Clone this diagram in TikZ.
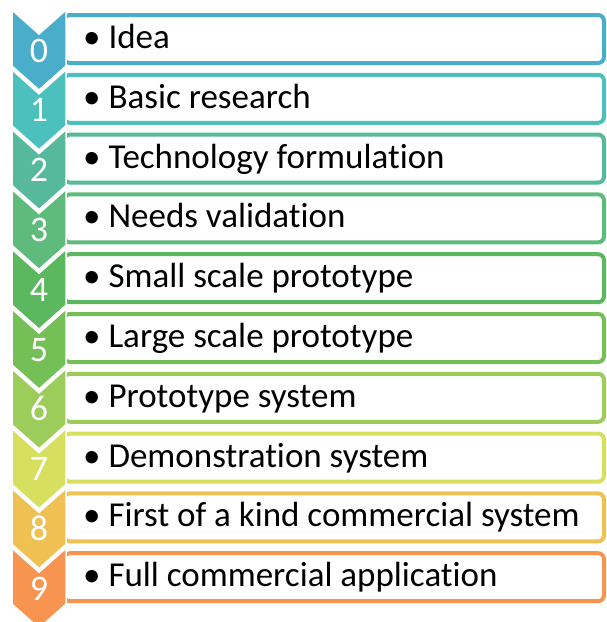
\documentclass[tikz,border=0pt]{standalone}
\usepackage{fontspec}
\setmainfont{Carlito}[Ligatures=NoCommon]

\definecolor{trl0}{HTML}{4AADC9}
\definecolor{trl1}{HTML}{4CC0BC}
\definecolor{trl2}{HTML}{55B99A}
\definecolor{trl3}{HTML}{5EBB7B}
\definecolor{trl4}{HTML}{5CB85F}
\definecolor{trl5}{HTML}{74C056}
\definecolor{trl6}{HTML}{9CCC5A}
\definecolor{trl7}{HTML}{D6E05E}
\definecolor{trl8}{HTML}{EFC052}
\definecolor{trl9}{HTML}{F7944F}

\begin{document}
\begin{tikzpicture}[x=1pt,y=-1pt,
		levelbox/.style={line width=4pt, rounded corners=6pt, fill=white},
		chevron/.style={draw=white, line width=1.5pt},
		num/.style={text=white, anchor=base, inner sep=0pt, font={\fontsize{36}{40}\selectfont}},
		lbl/.style={anchor=base west, inner sep=0pt, font={\fontsize{35}{40}\selectfont}}]
	\useasboundingbox (0,0) rectangle (606,622);
	
	% one row per level: box, chevron, number, text
	\foreach \i/\txt in {0/Idea, 1/Basic research, 2/Technology formulation, 3/Needs validation, 4/Small scale prototype, 5/Large scale prototype, 6/Prototype system, 7/Demonstration system, 8/First of a kind commercial system, 9/Full commercial application} {
		\pgfmathsetmacro{\ytop}{10+59.8*\i}
		\draw[levelbox, draw=trl\i] (64,\ytop+5) rectangle (604,\ytop+53);
		\fill[chevron, fill=trl\i] (12,\ytop) -- (39,\ytop+24) -- (66,\ytop) -- (66,\ytop+56) -- (39,\ytop+80) -- (12,\ytop+56) -- cycle;
		\node[num] (num\i) at (39,\ytop+52) {\i};
		\node[lbl] (lbl\i) at (83,\ytop+38.5) {\textbullet\ \txt};
	}
\end{tikzpicture}
\end{document}
